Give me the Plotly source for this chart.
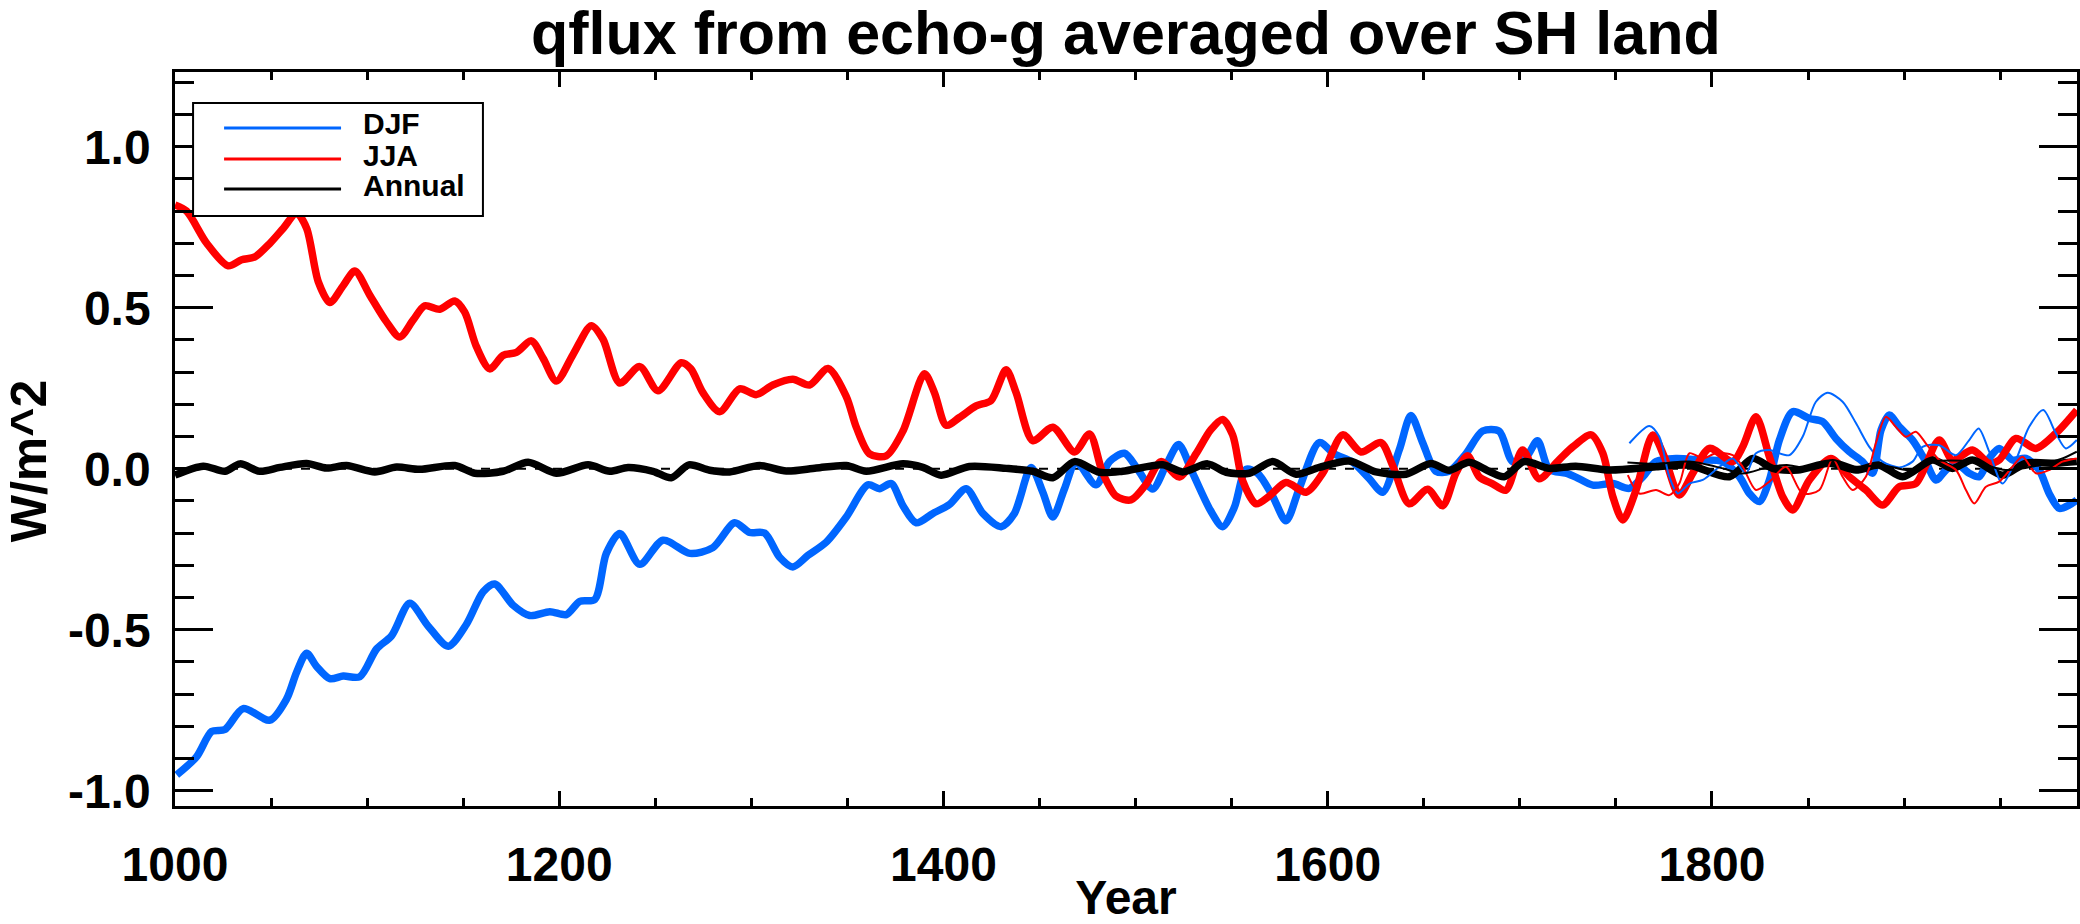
import plotly.graph_objects as go

# ---------------- data ----------------
djf_years = [1000.9, 1011.3, 1019.1, 1026, 1035.5, 1049.4, 1058.1, 1063.3, 1068.5, 1073.7, 1080.6, 1087.6,
             1096.2, 1104.9, 1112.7, 1122.2, 1131.8, 1142.2, 1151.7, 1160.4, 1166.4, 1176, 1184.6, 1195.1,
             1203.7, 1210.7, 1218.5, 1224.5, 1231.5, 1241.9, 1254, 1268, 1280, 1291.3, 1299.1, 1306.9,
             1314.7, 1321.6, 1329.5, 1339, 1349.4, 1360.7, 1366.7, 1372.8, 1378.9, 1385.8, 1394.5, 1403.1,
             1411.8, 1420.5, 1430, 1436.9, 1445.6, 1451.7, 1456.9, 1463, 1469, 1479.4, 1486.4, 1494.2,
             1501.1, 1508.9, 1515.8, 1522.4, 1529.7, 1539, 1545.3, 1551.4, 1557.5, 1563.5, 1571.3, 1578.3,
             1585.2, 1595.6, 1603.4, 1613, 1621.6, 1628.6, 1637.2, 1643.3, 1649.4, 1656.3, 1663.2, 1671.9,
             1680.6, 1689.2, 1696.2, 1703.1, 1709.2, 1715.2, 1723.9, 1729.1, 1738, 1748.4, 1757, 1764,
             1770.9, 1781.3, 1793.5, 1805.6, 1814.3, 1819.5, 1824.7, 1829.9, 1835.1, 1842, 1850.7, 1857.6,
             1864.5, 1871.5, 1878.4, 1883.6, 1888, 1892.3, 1897.5, 1904.4, 1911.3, 1916.6, 1921.8, 1927,
             1933.9, 1939.1, 1944.3, 1949.5, 1956.4, 1963.4, 1970.3, 1975.5, 1980.7, 1985.9, 1989.9]
djf_vals = [-0.951, -0.894, -0.816, -0.81, -0.745, -0.781, -0.715, -0.632, -0.573, -0.614, -0.652, -0.644,
            -0.646, -0.56, -0.519, -0.418, -0.489, -0.551, -0.483, -0.382, -0.358, -0.424, -0.456, -0.444,
            -0.453, -0.412, -0.406, -0.263, -0.201, -0.297, -0.222, -0.263, -0.245, -0.168, -0.198, -0.2,
            -0.275, -0.305, -0.269, -0.228, -0.15, -0.05, -0.062, -0.046, -0.115, -0.168, -0.139, -0.111,
            -0.062, -0.139, -0.18, -0.139, 0.004, -0.073, -0.15, -0.062, 0.02, -0.05, 0.022, 0.048,
            -0.002, -0.063, 0.01, 0.075, -0.014, -0.13, -0.18, -0.12, -0.002, -0.014, -0.085, -0.162,
            -0.061, 0.081, 0.046, 0.02, -0.031, -0.073, 0.058, 0.165, 0.081, -0.008, -0.008, 0.046,
            0.117, 0.117, 0.022, 0.034, 0.087, -0.002, -0.014, -0.026, -0.051, -0.046, -0.061, -0.025,
            0.022, 0.032, 0.027, 0.022, -0.025, -0.077, -0.102, -0.035, 0.089, 0.177, 0.156, 0.146,
            0.094, 0.053, 0.022, -0.014, 0.12, 0.167, 0.13, 0.089, 0.022, -0.035, -0.004, 0.017,
            -0.014, -0.025, 0.032, 0.063, 0.027, 0.032, -0.004, -0.077, -0.123, -0.113, -0.097]

jja_years = [1000, 1006, 1016.5, 1027.7, 1034.7, 1041.6, 1049.4, 1056.4, 1063.3, 1068.5, 1074.6, 1080.6,
             1087.6, 1093.6, 1101.4, 1110.1, 1117, 1124, 1130, 1137.8, 1145.6, 1150.8, 1156.9, 1163.8,
             1170.8, 1177.7, 1185.5, 1191.6, 1198.5, 1207.2, 1216.7, 1222.8, 1231.5, 1241.9, 1251.4, 1263.5,
             1268.5, 1274.8, 1283.5, 1293.9, 1302.6, 1311.2, 1321.6, 1330.3, 1339.9, 1349.4, 1354.6, 1361.5,
             1370.2, 1378.9, 1390.1, 1395.3, 1401.4, 1408.3, 1417, 1424.8, 1432.6, 1437.8, 1446.5, 1456.9,
             1468.2, 1476, 1482.9, 1489.8, 1497.6, 1505.4, 1513.2, 1522.8, 1531.4, 1539, 1545.3, 1550.5,
             1555.7, 1562.7, 1569.6, 1578.3, 1588.7, 1597.4, 1607.8, 1617.3, 1627.7, 1633.8, 1642.4, 1652,
             1659.8, 1666.7, 1672.8, 1678.8, 1685.8, 1692.7, 1701.4, 1710, 1720, 1727.6, 1737.1, 1743.2,
             1748.4, 1753.6, 1760.5, 1769.2, 1775.2, 1783, 1790, 1798.7, 1810.8, 1816, 1822.9, 1829.9,
             1836.8, 1842, 1850.7, 1861.9, 1871.5, 1880.1, 1888.8, 1897.5, 1906.1, 1918.3, 1925.2, 1935.6,
             1944.3, 1949.5, 1958.2, 1968.6, 1979, 1989.9]
jja_vals = [0.819, 0.80, 0.70, 0.63, 0.649, 0.658, 0.70, 0.747, 0.793, 0.747, 0.58, 0.516,
            0.569, 0.614, 0.539, 0.456, 0.409, 0.462, 0.506, 0.495, 0.521, 0.486, 0.379, 0.31,
            0.352, 0.361, 0.397, 0.343, 0.272, 0.355, 0.444, 0.402, 0.266, 0.317, 0.242, 0.329,
            0.31, 0.236, 0.177, 0.248, 0.23, 0.26, 0.278, 0.26, 0.311, 0.224, 0.129, 0.046,
            0.04, 0.117, 0.295, 0.236, 0.135, 0.159, 0.195, 0.212, 0.307, 0.236, 0.087, 0.129,
            0.052, 0.108, -0.014, -0.085, -0.097, -0.049, 0.022, -0.026, 0.046, 0.12, 0.153, 0.105,
            -0.037, -0.109, -0.085, -0.043, -0.073, -0.014, 0.105, 0.052, 0.081, 0.01, -0.109, -0.064,
            -0.115, -0.014, 0.04, -0.025, -0.047, -0.067, 0.058, -0.031, 0.025, 0.068, 0.105, 0.048,
            -0.087, -0.159, -0.066, 0.105, 0.037, -0.082, -0.014, 0.063, 0.022, 0.068, 0.161, 0.037,
            -0.087, -0.128, -0.035, 0.032, -0.025, -0.066, -0.113, -0.056, -0.046, 0.089, 0.027, 0.058,
            0.017, 0.027, 0.094, 0.063, 0.11, 0.182]

ann_years = [1000, 1014.7, 1026, 1033.8, 1044.2, 1054.6, 1068.5, 1078.9, 1089.3, 1104, 1115.3, 1127.4,
             1145.6, 1156, 1170.8, 1183.8, 1198.5, 1215, 1226.3, 1235.8, 1248.8, 1258.3, 1267.5, 1278.3,
             1288.7, 1304.3, 1318.2, 1333.8, 1349.4, 1359.8, 1378.9, 1389.3, 1398.8, 1413.5, 1432.6, 1446.5,
             1456.9, 1468.2, 1481.2, 1493.3, 1514.1, 1524.5, 1537.5, 1547.1, 1559.2, 1571.3, 1583.5, 1595.6,
             1611.2, 1625.1, 1640.7, 1653.7, 1663.2, 1673.6, 1684, 1691.8, 1702.2, 1715.2, 1729.1, 1746.6,
             1771, 1788.3, 1809.1, 1821.2, 1831.6, 1844.7, 1861.1, 1875, 1887.1, 1899.2, 1914.8, 1925.2,
             1935.6, 1951.2, 1963.4, 1979, 1989.9]
ann_vals = [-0.02, 0.008, -0.008, 0.015, -0.008, 0.004, 0.016, 0.002, 0.01, -0.01, 0.005, -0.002,
            0.01, -0.014, -0.008, 0.02, -0.014, 0.012, -0.008, 0.004, -0.008, -0.028, 0.012, -0.005,
            -0.01, 0.01, -0.007, 0.002, 0.01, -0.008, 0.015, 0.004, -0.02, 0.007, 0.001, -0.008,
            -0.028, 0.022, -0.011, -0.008, 0.012, -0.01, 0.015, -0.011, -0.014, 0.022, -0.017, 0.004,
            0.024, -0.01, -0.017, 0.016, -0.005, 0.02, -0.008, -0.025, 0.022, 0.001, 0.008, -0.004,
            0.006, 0.011, -0.025, 0.032, 0.001, -0.004, 0.017, -0.004, 0.011, -0.025, 0.027, 0.001,
            0.027, -0.02, 0.017, 0.017, 0.022]

# shorter records (thin lines), starting in the mid-18th century
djf2_years = [1757, 1767.4, 1772.6, 1777.8, 1782.2, 1788.3, 1795.2, 1803.9, 1810.8, 1817.7, 1822.9, 1829.9,
              1840.3, 1847.2, 1854.1, 1860.2, 1868, 1875, 1881.9, 1888.8, 1897.5, 1904.4, 1909.6, 1918.3,
              1927, 1933.9, 1938.8, 1944.3, 1951.2, 1958.2, 1965.1, 1972.4, 1979, 1984.2, 1989.9]
djf2_vals = [0.079, 0.133, 0.099, -0.025, -0.077, -0.046, -0.035, 0.006, 0.032, -0.014, 0.048, 0.058,
             0.042, 0.099, 0.208, 0.236, 0.208, 0.141, 0.068, 0.022, 0.004, 0.022, 0.068, 0.073,
             0.042, 0.089, 0.125, 0.053, -0.046, 0.027, 0.13, 0.182, 0.11, 0.063, 0.089]

jja2_years = [1756.2, 1762.2, 1770.9, 1777.8, 1783, 1788.3, 1795.2, 1802.1, 1810.8, 1816, 1822.9, 1829.9,
              1838.5, 1847.2, 1855.9, 1862.8, 1868, 1873.2, 1880.1, 1885.3, 1890.5, 1895.7, 1900.9, 1906.1,
              1911.3, 1918.3, 1927, 1932.2, 1936.5, 1942.6, 1949.5, 1956.4, 1961.6, 1968.6, 1975.5, 1982.4,
              1989.9]
jja2_vals = [-0.02, -0.077, -0.066, -0.082, -0.046, 0.048, 0.032, 0.048, 0.042, 0.006, -0.066, -0.04,
             0.006, -0.077, -0.066, 0.032, -0.025, -0.066, -0.025, 0.079, 0.161, 0.13, 0.099, 0.115,
             0.079, 0.027, -0.004, -0.066, -0.108, -0.056, -0.04, 0.006, 0.037, -0.014, -0.004, 0.022,
             0.032]

ann2_years = [1756, 1771, 1788.3, 1805.6, 1816, 1830, 1840, 1850.7, 1862.8, 1875, 1888.8, 1902.7,
              1914.8, 1935.6, 1953, 1970.3, 1982.4, 1989.9]
ann2_vals = [0.019, 0.015, 0.022, 0.001, -0.015, 0.006, 0.011, 0.001, 0.027, 0.006, 0.011, -0.004,
             0.022, 0.022, -0.004, 0.011, 0.032, 0.053]

series_names = ["DJF", "JJA", "Annual"]
series_colors = ["rgb(0,102,255)", "rgb(255,0,0)", "rgb(0,0,0)"]

title_text = "qflux from echo-g averaged over SH land"
x_title = "Year"
y_title = "W/m^2"
x_range = [1000, 1990]
y_range = [-1.0475, 1.232]
y_tickvals = [-1.0, -0.5, 0.0, 0.5, 1.0]
y_ticktext = ["-1.0", "-0.5", "0.0", "0.5", "1.0"]

# ---------------- figure ----------------
FONT = "Liberation Sans, Arial, Helvetica, sans-serif"
fig = go.Figure()

thick = [(djf_years, djf_vals), (jja_years, jja_vals), (ann_years, ann_vals)]
thin = [(djf2_years, djf2_vals), (jja2_years, jja2_vals), (ann2_years, ann2_vals)]

for (xs, ys), name, col in zip(thick, series_names, series_colors):
    fig.add_trace(go.Scatter(x=xs, y=ys, mode="lines", name=name,
                             line=dict(color=col, width=7.5, shape="spline", smoothing=0.8),
                             showlegend=False))
for (xs, ys), name, col in zip(thin, series_names, series_colors):
    fig.add_trace(go.Scatter(x=xs, y=ys, mode="lines", name=name + " (short)",
                             line=dict(color=col, width=2, shape="spline", smoothing=0.8),
                             showlegend=False))

# dashed zero reference line
fig.add_hline(y=0, line=dict(color="black", width=2, dash="dash"), layer="below")

# custom legend box (IDL-style long sample lines)
leg_line_y = [0.9237, 0.8815, 0.8406]
leg_text_y = [0.9292, 0.8869, 0.8460]
fig.add_shape(type="rect", xref="paper", yref="paper", x0=0.0095, x1=0.1619, y0=0.8038, y1=0.9578,
              line=dict(color="black", width=2), fillcolor="white", layer="above")
for name, col, ly, ty in zip(series_names, series_colors, leg_line_y, leg_text_y):
    fig.add_shape(type="line", xref="paper", yref="paper", x0=0.0258, x1=0.0873, y0=ly, y1=ly,
                  line=dict(color=col, width=3), layer="above")
    fig.add_annotation(text=name, xref="paper", yref="paper", x=0.0978, y=ty, xanchor="left",
                       yanchor="middle", showarrow=False,
                       font=dict(family=FONT, size=30, color="black", weight="bold"))

# y-axis title placed like the original (slightly below the axis centre)
fig.add_annotation(text=y_title, xref="paper", yref="paper", x=-0.0768, y=0.471, textangle=-90,
                   xanchor="center", yanchor="middle", showarrow=False,
                   font=dict(family=FONT, size=50, color="black", weight="bold"))

axis_common = dict(showgrid=False, zeroline=False, showline=True, linecolor="black", linewidth=2.5,
                   mirror="ticks", ticks="inside", tickcolor="black", tickwidth=2.5,
                   tickfont=dict(family=FONT, size=48, color="black", weight="bold"))

fig.update_layout(
    width=2080, height=924,
    paper_bgcolor="white", plot_bgcolor="white",
    margin=dict(l=175, r=3, t=72, b=118, autoexpand=False),
    title=dict(text=title_text, x=0.5413, xanchor="center", y=1 - 33 / 924, yanchor="middle",
               yref="container",
               font=dict(family=FONT, size=61, color="black", weight="bold")),
    xaxis=dict(range=x_range, tick0=1000, dtick=200, ticklen=15, ticklabelstandoff=15,
               minor=dict(dtick=50, ticklen=8, ticks="inside", tickcolor="black", tickwidth=2.5),
               title=dict(text=x_title, standoff=14,
                          font=dict(family=FONT, size=48, color="black", weight="bold")),
               **axis_common),
    yaxis=dict(range=y_range, tickvals=y_tickvals, ticktext=y_ticktext, ticklen=38,
               ticklabelstandoff=12,
               minor=dict(dtick=0.1, ticklen=19, ticks="inside", tickcolor="black", tickwidth=2.5),
               **axis_common),
)

fig.write_html("out.html", config={"displayModeBar": False},
               post_script="document.body.style.margin='0';document.body.style.overflow='hidden';")
